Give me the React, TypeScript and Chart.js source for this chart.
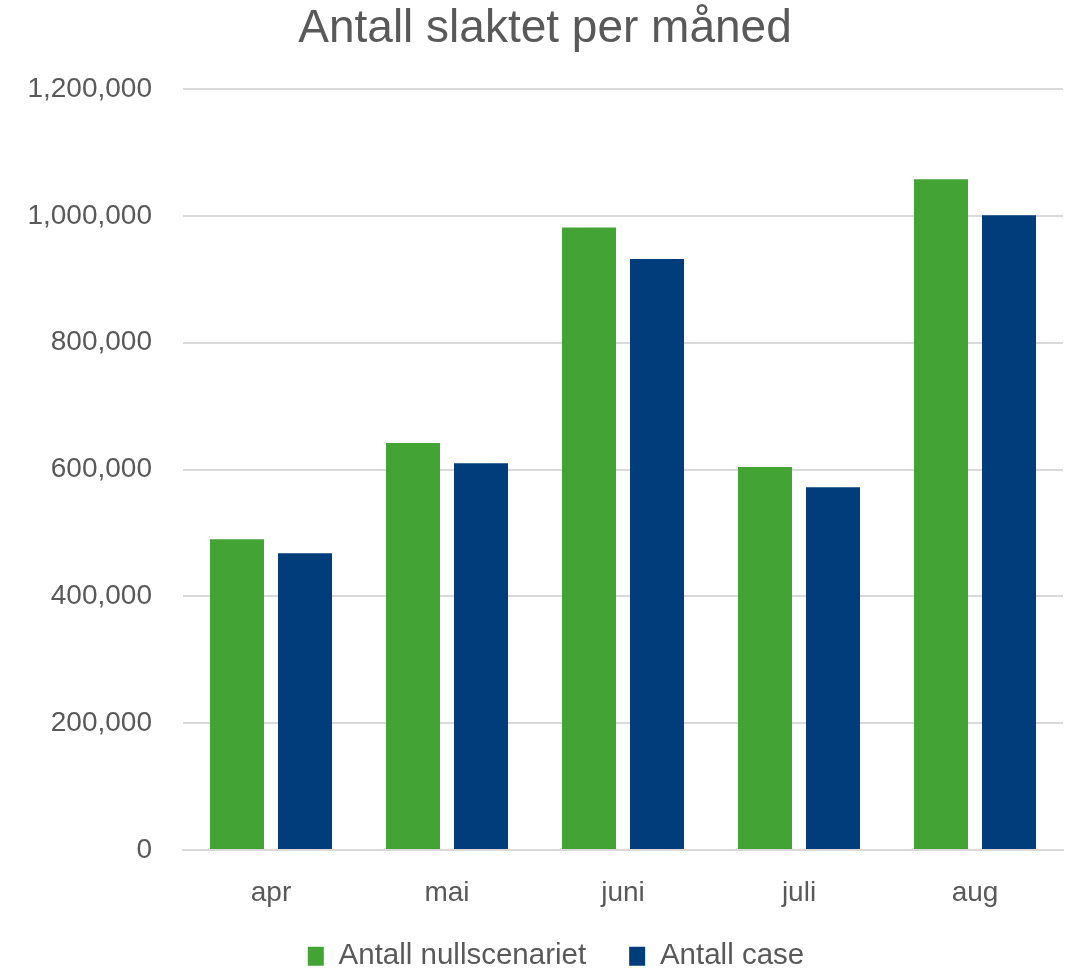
import React, { useEffect, useRef } from "react";
import { Chart, registerables } from "chart.js";

Chart.register(...registerables);

const titleText = "Antall slaktet per måned";
const categories = ["apr", "mai", "juni", "juli", "aug"];
const seriesNames = ["Antall nullscenariet", "Antall case"];
const nullscenariet = [490000, 642000, 982000, 604000, 1058000];
const caseValues = [468000, 610000, 932000, 572000, 1001000];
const yMin = 0;
const yMax = 1200000;
const yStep = 200000;

const GREEN = "#43a334";
const BLUE = "#013d7a";
const TEXT = "#595959";
const FONT = "'Liberation Sans', Arial, sans-serif";

const LEGEND_LIFT = 39;
const LEGEND_SHIFT = 22;

const legendTweak = {
  id: "legendTweak",
  beforeLayout(chart: any) {
    const lg = chart.legend;
    if (lg && !lg.__patched) {
      const proto = Object.getPrototypeOf(lg);
      lg.fit = function () {
        proto.fit.call(this);
        this.height = this.height - LEGEND_LIFT;
      };
      lg.__patched = true;
    }
  },
  afterLayout(chart: any) {
    const lg = chart.legend;
    if (lg) {
      lg.top -= LEGEND_LIFT;
      lg.height += LEGEND_LIFT;
      lg.left += LEGEND_SHIFT;
      lg.width -= LEGEND_SHIFT;
    }
  },
};

export default function App() {
  const ref = useRef<HTMLCanvasElement | null>(null);

  useEffect(() => {
    document.body.style.margin = "0";
    const ctx = ref.current;
    if (!ctx) return;
    const chart = new Chart(ctx, {
      type: "bar",
      data: {
        labels: categories,
        datasets: [
          {
            label: seriesNames[0],
            data: nullscenariet,
            backgroundColor: GREEN,
            categoryPercentage: 0.773,
            barPercentage: 0.794,
          },
          {
            label: seriesNames[1],
            data: caseValues,
            backgroundColor: BLUE,
            categoryPercentage: 0.773,
            barPercentage: 0.794,
          },
        ],
      },
      plugins: [legendTweak],
      options: {
        animation: false,
        responsive: false,
        maintainAspectRatio: false,
        layout: { padding: { left: 27, right: 8, top: 2, bottom: -13 } },
        plugins: {
          title: {
            display: true,
            text: titleText,
            color: TEXT,
            font: { family: FONT, size: 46, weight: "normal" },
            padding: { top: 0, bottom: 32 },
          },
          legend: {
            position: "bottom",
            labels: {
              color: TEXT,
              font: { family: FONT, size: 29.5 },
              boxWidth: 16,
              boxHeight: 19,
              padding: 43,
            },
          },
          tooltip: { enabled: false },
        },
        scales: {
          x: {
            grid: { display: false, drawTicks: false },
            border: { display: true, color: "#d9d9d9", width: 2 },
            ticks: {
              color: TEXT,
              font: { family: FONT, size: 28 },
              padding: 27,
            },
          },
          y: {
            min: yMin,
            max: yMax,
            afterFit: (s: any) => {
              s.width = 156;
            },
            grid: { color: "#d9d9d9", lineWidth: 2, drawTicks: false },
            border: { display: false },
            ticks: {
              stepSize: yStep,
              color: TEXT,
              font: { family: FONT, size: 28 },
              padding: 31,
              callback: (v: any) => Number(v).toLocaleString("en-US"),
            },
          },
        },
      },
    });
    return () => chart.destroy();
  }, []);

  return (
    <div style={{ width: 1071, height: 968 }}>
      <canvas ref={ref} width={1071} height={968} style={{ width: 1071, height: 968, display: "block" }} />
    </div>
  );
}
